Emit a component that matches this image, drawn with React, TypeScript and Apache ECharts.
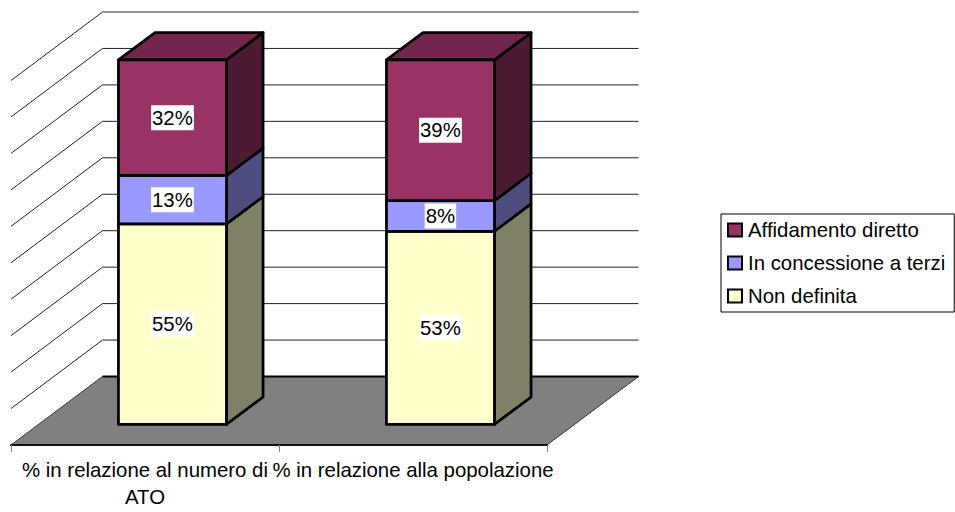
import React, { useEffect, useRef } from "react";
import * as echarts from "echarts";

const categories = ["% in relazione al numero di\nATO", "% in relazione alla popolazione"];
const nonDefinita = [55, 53];
const concessione = [13.3, 8.4];
const affidamento = [31.7, 38.6];
const gridValues = [10, 20, 30, 40, 50, 60, 70, 80, 90, 100];
const seriesNames = ["Non definita", "In concessione a terzi", "Affidamento diretto"];
const legendOrder = ["Affidamento diretto", "In concessione a terzi", "Non definita"];

const FONT = "Liberation Sans";
const FONT_SIZE = 20.4;
const DEPTH_X = 91.5;
const DEPTH_Y = -68.5;
const BAR_NEAR = 0.3;
const BAR_FAR = 0.7;
const BAR_BAND = 0.403;

const faces = [
  { front: "#FFFFCC", side: "#808066", top: "#BFBF99" },
  { front: "#9999FF", side: "#4D4D80", top: "#7373BF" },
  { front: "#993366", side: "#4D1A33", top: "#73264D" },
];

const stacks = [nonDefinita, concessione, affidamento];

function barSeries(idx: number) {
  const values = stacks[idx];
  const data = values.map((v, c) => {
    let base = 0;
    for (let s = 0; s < idx; s++) base += stacks[s][c];
    return [c, base, base + v, v];
  });
  const f = faces[idx];
  const isTop = idx === stacks.length - 1;
  return {
    type: "custom",
    name: seriesNames[idx],
    coordinateSystem: "cartesian2d",
    itemStyle: { color: f.front, borderColor: "#000", borderWidth: 2.75 },
    clip: false,
    silent: true,
    encode: { x: 0, y: 2 },
    data,
    renderItem: (_p: any, api: any) => {
      const c = api.value(0);
      const lo = api.coord([c, api.value(1)]);
      const hi = api.coord([c, api.value(2)]);
      const band = api.size([1, 0])[0];
      const w = band * BAR_BAND;
      const nx = DEPTH_X * BAR_NEAR;
      const ny = DEPTH_Y * BAR_NEAR;
      const dx = DEPTH_X * (BAR_FAR - BAR_NEAR);
      const dy = DEPTH_Y * (BAR_FAR - BAR_NEAR);
      const x0 = lo[0] + nx - w / 2;
      const x1 = x0 + w;
      const yLo = lo[1] + ny;
      const yHi = hi[1] + ny;
      const stroke = { stroke: "#000", lineWidth: 2.75, lineJoin: "round" };
      const children: any[] = [
        {
          type: "polygon",
          shape: { points: [[x1, yLo], [x1 + dx, yLo + dy], [x1 + dx, yHi + dy], [x1, yHi]] },
          style: { fill: f.side, ...stroke },
        },
      ];
      if (isTop) {
        children.push({
          type: "polygon",
          shape: { points: [[x0, yHi], [x1, yHi], [x1 + dx, yHi + dy], [x0 + dx, yHi + dy]] },
          style: { fill: f.top, ...stroke },
        });
      }
      children.push({
        type: "rect",
        shape: { x: x0, y: yHi, width: w, height: yLo - yHi },
        style: { fill: f.front, ...stroke },
      });
      children.push({
        type: "text",
        style: {
          x: (x0 + x1) / 2,
          y: (yLo + yHi) / 2,
          text: Math.round(api.value(3)) + "%",
          align: "center",
          verticalAlign: "middle",
          fill: "#000",
          font: `${FONT_SIZE}px "${FONT}"`,
          backgroundColor: "#fff",
          padding: [3, 1, 2, 1],
        },
      });
      return { type: "group", children };
    },
  };
}

const wallSeries = {
  type: "custom",
  name: "walls",
  coordinateSystem: "cartesian2d",
  silent: true,
  clip: false,
  encode: { y: 1 },
  data: gridValues.map((v) => [0, v]),
  renderItem: (p: any, api: any) => {
    const left = p.coordSys.x;
    const right = left + p.coordSys.width;
    const y = api.coord([0, api.value(1)])[1];
    return {
      type: "polyline",
      shape: {
        points: [
          [left, y],
          [left + DEPTH_X, y + DEPTH_Y],
          [right + DEPTH_X, y + DEPTH_Y],
        ],
      },
      style: { fill: "none", stroke: "#222", lineWidth: 1 },
    };
  },
};

const floorSeries = {
  type: "custom",
  name: "floor",
  coordinateSystem: "cartesian2d",
  silent: true,
  clip: false,
  encode: { y: 1 },
  data: [[0, 0]],
  renderItem: (p: any, api: any) => {
    const left = p.coordSys.x;
    const right = left + p.coordSys.width;
    const y = api.coord([0, 0])[1];
    return {
      type: "group",
      children: [
        {
          type: "polygon",
          shape: {
            points: [
              [left, y],
              [left + DEPTH_X, y + DEPTH_Y],
              [right + DEPTH_X, y + DEPTH_Y],
              [right, y],
            ],
          },
          style: { fill: "#808080", stroke: "#333", lineWidth: 1 },
        },
        {
          type: "line",
          shape: { x1: left + DEPTH_X, y1: y + DEPTH_Y, x2: right + DEPTH_X, y2: y + DEPTH_Y },
          style: { stroke: "#000", lineWidth: 2 },
        },
      ],
    };
  },
};

export default function App() {
  const ref = useRef<HTMLDivElement>(null);
  useEffect(() => {
    const chart = echarts.init(ref.current!, null, { renderer: "svg" });
    chart.setOption({
      animation: false,
      backgroundColor: "#fff",
      grid: { left: 11, top: 80.5, width: 536, height: 364.5 },
      xAxis: {
        type: "category",
        data: categories,
        boundaryGap: true,
        z: 5,
        axisLine: { show: true, lineStyle: { color: "#111", width: 2 } },
        axisTick: { show: true, alignWithLabel: false, length: 7, lineStyle: { color: "#808080", width: 1 } },
        axisLabel: {
          interval: 0,
          color: "#000",
          fontFamily: FONT,
          fontSize: FONT_SIZE,
          lineHeight: 27,
          margin: 11,
        },
      },
      yAxis: { type: "value", min: 0, max: 100, interval: 10, show: false },
      legend: {
        orient: "vertical",
        left: 721,
        top: 214,
        data: legendOrder,
        icon: "rect",
        itemWidth: 14,
        itemHeight: 13,
        itemGap: 13,
        padding: [6, 9, 6, 6],
        borderColor: "#000",
        borderWidth: 1,
        backgroundColor: "#fff",
        textStyle: { color: "#000", fontFamily: FONT, fontSize: FONT_SIZE, padding: [0, 0, 0, 1], lineHeight: 20 },
        itemStyle: { borderColor: "#000", borderWidth: 2 },
      },
      series: [wallSeries, floorSeries, barSeries(0), barSeries(1), barSeries(2)],
    });
    return () => chart.dispose();
  }, []);
  return <div ref={ref} style={{ position: "fixed", left: 0, top: 0, width: 955, height: 512 }} />;
}
